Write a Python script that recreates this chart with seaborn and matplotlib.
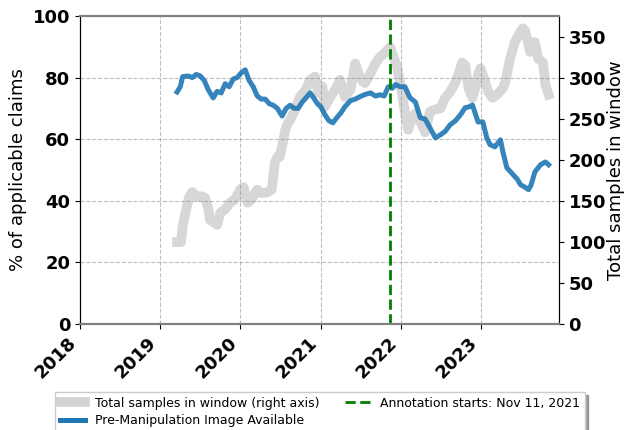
import matplotlib
matplotlib.use("Agg")
import matplotlib.pyplot as plt
import matplotlib.dates as mdates
from matplotlib.lines import Line2D
import seaborn as sns
import pandas as pd
import numpy as np

# --- data (decimal years) ---
blue_years = [2019.21, 2019.25, 2019.28, 2019.35, 2019.40, 2019.45, 2019.50, 2019.55, 2019.60, 2019.66,
              2019.71, 2019.76, 2019.81, 2019.86, 2019.91, 2019.96, 2020.01, 2020.06, 2020.11, 2020.16,
              2020.21, 2020.26, 2020.31, 2020.36, 2020.41, 2020.46, 2020.52, 2020.57, 2020.62, 2020.67,
              2020.72, 2020.77, 2020.82, 2020.87, 2020.91, 2020.96, 2021.00, 2021.05, 2021.10, 2021.15,
              2021.20, 2021.25, 2021.30, 2021.37, 2021.43, 2021.49, 2021.55, 2021.62, 2021.68, 2021.74,
              2021.79, 2021.84, 2021.89, 2021.93, 2021.99, 2022.05, 2022.11, 2022.18, 2022.24, 2022.30,
              2022.36, 2022.43, 2022.49, 2022.55, 2022.61, 2022.68, 2022.74, 2022.80, 2022.85, 2022.89,
              2022.93, 2022.96, 2023.02, 2023.07, 2023.11, 2023.17, 2023.24, 2023.27, 2023.32, 2023.40,
              2023.45, 2023.49, 2023.54, 2023.59, 2023.62, 2023.67, 2023.74, 2023.80, 2023.84]
blue_pct = [75.3, 77.0, 80.3, 80.5, 80.0, 81.0, 80.5, 79.0, 76.0, 73.4,
            75.5, 75.0, 78.0, 77.0, 79.5, 80.0, 81.5, 82.5, 79.0, 77.0,
            74.0, 73.0, 73.0, 71.5, 71.0, 70.0, 67.5, 70.0, 71.0, 70.0,
            70.0, 72.0, 73.5, 75.0, 73.5, 71.5, 70.5, 68.0, 66.0, 65.3,
            67.0, 68.5, 70.5, 72.5, 73.0, 73.8, 74.5, 75.0, 74.0, 74.4,
            74.0, 77.0, 76.5, 77.7, 77.0, 77.0, 73.5, 72.0, 67.0, 66.5,
            63.7, 60.4, 61.4, 62.5, 64.6, 66.0, 67.9, 70.2, 70.5, 71.1,
            68.0, 65.6, 65.6, 60.4, 58.2, 57.5, 59.8, 55.9, 50.7, 48.4,
            47.0, 45.2, 44.5, 43.6, 45.0, 49.4, 51.7, 52.6, 51.7]

grey_years = [2019.21, 2019.26, 2019.28, 2019.32, 2019.36, 2019.40, 2019.46, 2019.51, 2019.56, 2019.60,
              2019.62, 2019.67, 2019.71, 2019.75, 2019.81, 2019.87, 2019.93, 2019.995, 2020.04, 2020.09,
              2020.14, 2020.21, 2020.26, 2020.31, 2020.36, 2020.39, 2020.43, 2020.47, 2020.49, 2020.53,
              2020.56, 2020.59, 2020.62, 2020.68, 2020.74, 2020.81, 2020.87, 2020.93, 2020.97, 2021.02,
              2021.05, 2021.12, 2021.18, 2021.24, 2021.30, 2021.37, 2021.43, 2021.47, 2021.52, 2021.55,
              2021.62, 2021.68, 2021.74, 2021.80, 2021.865, 2021.90, 2021.95, 2021.99, 2022.03, 2022.05,
              2022.09, 2022.14, 2022.18, 2022.21, 2022.24, 2022.30, 2022.36, 2022.43, 2022.49, 2022.55,
              2022.61, 2022.68, 2022.74, 2022.76, 2022.80, 2022.84, 2022.89, 2022.93, 2022.96, 2022.99,
              2023.02, 2023.09, 2023.14, 2023.20, 2023.27, 2023.30, 2023.36, 2023.42, 2023.49, 2023.52,
              2023.55, 2023.61, 2023.65, 2023.67, 2023.71, 2023.77, 2023.80, 2023.84]
grey_total = [100, 100, 120, 138, 155, 161, 155, 156, 154, 140,
              127, 124, 121, 136, 140, 148, 152, 164, 167, 148,
              152, 164, 160, 160, 162, 164, 197, 205, 204, 222,
              237, 245, 249, 261, 277, 285, 298, 302, 282, 290,
              265, 277, 286, 298, 277, 286, 318, 306, 296, 294,
              306, 318, 326, 331, 338, 328, 314, 294, 270, 257,
              237, 253, 257, 250, 247, 234, 259, 262, 263, 276,
              283, 295, 312, 319, 316, 288, 276, 290, 304, 312,
              304, 283, 276, 280, 288, 295, 324, 344, 357, 361,
              357, 332, 344, 344, 324, 319, 292, 280]

annotation_date = "2021-11-11"


def to_dates(years):
    out = []
    for y in years:
        yr = int(np.floor(y))
        start = pd.Timestamp(f"{yr}-01-01")
        out.append(start + pd.Timedelta(days=(y - yr) * 365.25))
    return out


blue_df = pd.DataFrame({"date": to_dates(blue_years), "pct": blue_pct})
grey_df = pd.DataFrame({"date": to_dates(grey_years), "total": grey_total})

plt.rcParams["font.family"] = ["DejaVu Sans"]

fig = plt.figure(figsize=(6.25, 4.3), dpi=100)
ax = fig.add_axes([0.128, 0.2465, 0.766, 0.7165])
ax2 = ax.twinx()
ax.set_zorder(ax2.get_zorder() + 1)
ax.patch.set_visible(False)

sns.lineplot(data=grey_df, x="date", y="total", ax=ax2, color="lightgray",
             linewidth=7, alpha=0.9, legend=False)
sns.lineplot(data=blue_df, x="date", y="pct", ax=ax, color="#1f77b4",
             linewidth=3.6, alpha=0.9, legend=False)
ax.axvline(pd.Timestamp(annotation_date), color="green", linestyle="--", linewidth=2)

ax.set_xlim(pd.Timestamp("2018-01-01"), pd.Timestamp("2023-12-20"))
ax.set_ylim(0, 100)
ax2.set_ylim(0, 376)

ax.xaxis.set_major_locator(mdates.YearLocator())
ax.xaxis.set_major_formatter(mdates.DateFormatter("%Y"))
ax.grid(True, linestyle="--", color="gray", alpha=0.5, linewidth=0.8)
ax2.grid(False)

ax.set_xlabel("")
ax.set_ylabel("% of applicable claims", fontsize=13)
ax2.set_ylabel("Total samples in window", fontsize=13, labelpad=1)
ax2.set_xlabel("")

for lbl in ax.get_xticklabels():
    lbl.set_fontweight("bold")
    lbl.set_fontsize(13)
    lbl.set_rotation(45)
    lbl.set_ha("right")
for lbl in ax.get_yticklabels() + ax2.get_yticklabels():
    lbl.set_fontweight("bold")
    lbl.set_fontsize(13)
ax.set_yticks([0, 20, 40, 60, 80, 100])
ax2.set_yticks([0, 50, 100, 150, 200, 250, 300, 350])

for a in (ax, ax2):
    a.spines["top"].set_color("gray")
    a.spines["bottom"].set_color("gray")
    a.spines["top"].set_linewidth(1.5)
    a.spines["bottom"].set_linewidth(1.5)
    a.spines["left"].set_color("black")
    a.spines["right"].set_color("black")

handles = [
    Line2D([], [], color="lightgray", linewidth=7, label="Total samples in window (right axis)"),
    Line2D([], [], color="#1f77b4", linewidth=3.6, label="Pre-Manipulation Image Available"),
    Line2D([], [], color="green", linestyle="--", linewidth=2, label="Annotation starts: Nov 11, 2021"),
]
fig.legend(handles=handles, loc="upper center", bbox_to_anchor=(0.512, 0.089), ncol=2,
           fontsize=9, shadow=True, frameon=True, fancybox=False, borderaxespad=0,
           labelspacing=0.35, columnspacing=2.0)

fig.savefig("out.png", dpi=100)
